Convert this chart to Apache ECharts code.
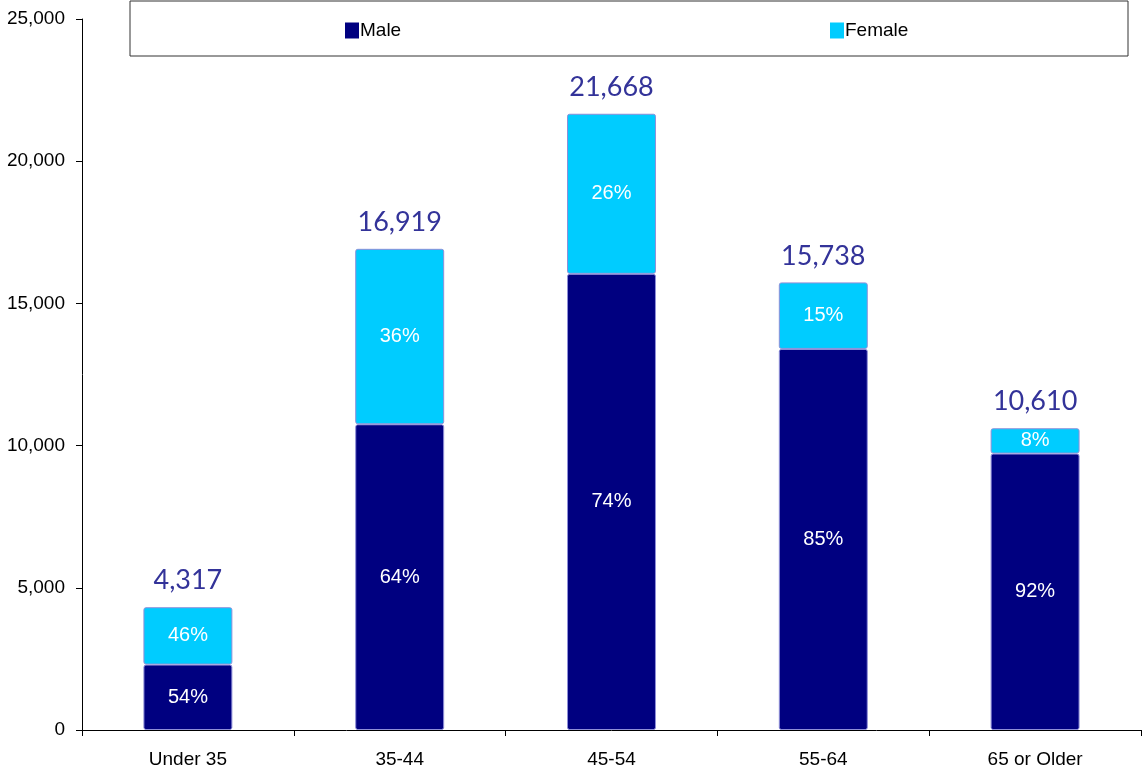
<!DOCTYPE html>
<html>
<head>
<meta charset="utf-8">
<script src="https://cdn.jsdelivr.net/npm/echarts@6/dist/echarts.min.js"></script>
<style>
  html, body { margin: 0; padding: 0; background: #fff; }
  #main { width: 1143px; height: 770px; }
</style>
</head>
<body>
<div id="main"></div>
<script>
// data
var categories = ['Under 35', '35-44', '45-54', '55-64', '65 or Older'];
var totals = [4317, 16919, 21668, 15738, 10610];
var male = [2300, 10750, 16040, 13400, 9720];
var female = [2017, 6169, 5628, 2338, 890];
var malePct = ['54%', '64%', '74%', '85%', '92%'];
var femalePct = ['46%', '36%', '26%', '15%', '8%'];
var yTicks = [0, 5000, 10000, 15000, 20000, 25000];

var FONT = '"Liberation Sans", Arial, sans-serif';
var chart = echarts.init(document.getElementById('main'));

var barStyle = function (color) {
  return { color: color, borderColor: '#8f8fd8', borderWidth: 1, borderRadius: 2 };
};
var legendText = { fontFamily: FONT, fontSize: 19, color: '#000', padding: [0, 0, 0, -4] };

var option = {
  animation: false,
  textStyle: { fontFamily: FONT },
  grid: { left: 82, right: 2, top: 19, bottom: 40 },
  graphic: [{
    type: 'rect',
    shape: { x: 130, y: 1, width: 998, height: 55 },
    style: { fill: '#fff', stroke: '#333', lineWidth: 1 },
    z: -1
  }],
  legend: [{
    data: ['Male'], left: 340, top: 16, icon: 'rect', itemWidth: 14, itemHeight: 16, itemGap: 0,
    itemStyle: { borderWidth: 0 }, textStyle: legendText
  }, {
    data: ['Female'], left: 825, top: 16, icon: 'rect', itemWidth: 14, itemHeight: 16, itemGap: 0,
    itemStyle: { borderWidth: 0 }, textStyle: legendText
  }],
  xAxis: {
    type: 'category',
    data: categories,
    axisLine: { lineStyle: { color: '#000' } },
    axisTick: { show: true, length: 6, lineStyle: { color: '#000' } },
    axisLabel: { color: '#000', fontFamily: FONT, fontSize: 19, margin: 20 }
  },
  yAxis: {
    type: 'value',
    min: yTicks[0], max: yTicks[yTicks.length - 1], interval: 5000,
    splitLine: { show: false },
    axisLine: { show: true, lineStyle: { color: '#000' } },
    axisTick: { show: true, length: 6, lineStyle: { color: '#000' } },
    axisLabel: {
      color: '#000', fontFamily: FONT, fontSize: 19, margin: 17,
      formatter: function (v) { return v.toLocaleString('en-US'); }
    }
  },
  series: [{
    name: 'Male', type: 'bar', stack: 'g', barWidth: '42%',
    data: male, itemStyle: barStyle('#000080'),
    label: {
      show: true, position: 'inside', color: '#fff', fontFamily: FONT, fontSize: 20,
      formatter: function (p) { return malePct[p.dataIndex]; }
    }
  }, {
    name: 'Female', type: 'bar', stack: 'g', barWidth: '42%',
    data: female, itemStyle: barStyle('#00ccff'),
    label: {
      show: true, position: 'inside', color: '#fff', fontFamily: FONT, fontSize: 20,
      formatter: function (p) { return femalePct[p.dataIndex]; }
    }
  }, {
    name: 'Total', type: 'bar', stack: 'g', barWidth: '42%',
    data: totals.map(function () { return 0; }),
    itemStyle: { color: 'transparent' },
    label: {
      show: true, position: 'top', distance: 13, color: '#333399',
      fontFamily: 'Lato, sans-serif', fontSize: 27,
      formatter: function (p) { return totals[p.dataIndex].toLocaleString('en-US'); }
    }
  }]
};

chart.setOption(option);
</script>
</body>
</html>
